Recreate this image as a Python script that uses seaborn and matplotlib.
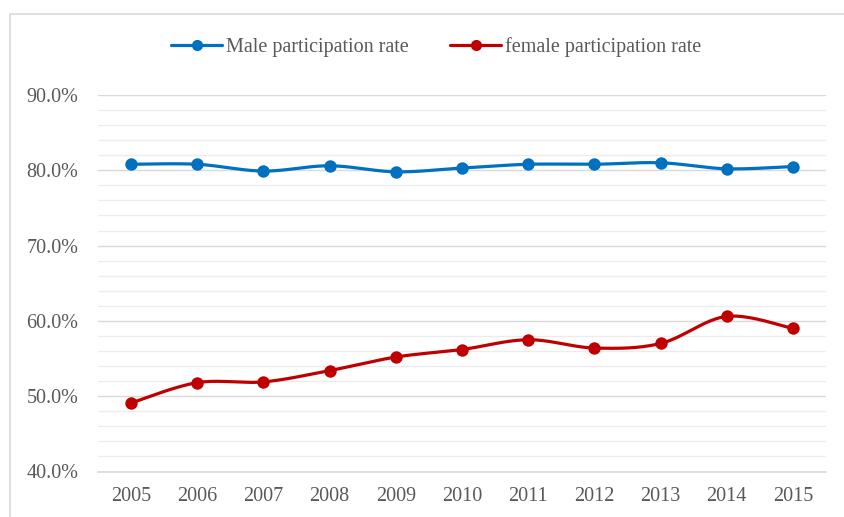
import numpy as np
import pandas as pd
import matplotlib
matplotlib.use("Agg")
import matplotlib.pyplot as plt
from matplotlib.lines import Line2D
from matplotlib.ticker import MultipleLocator, FuncFormatter
import seaborn as sns

years = ["2005", "2006", "2007", "2008", "2009", "2010", "2011", "2012", "2013", "2014", "2015"]
male = [80.8, 80.8, 79.9, 80.6, 79.8, 80.3, 80.8, 80.8, 81.0, 80.2, 80.5]
female = [49.1, 51.8, 51.9, 53.4, 55.2, 56.2, 57.5, 56.4, 57.0, 60.6, 59.0]
series_names = ["Male participation rate", "female participation rate"]
colors = ["#0070C0", "#C00000"]

sns.set_theme(style="white")
plt.rcParams["font.family"] = ["Liberation Serif", "DejaVu Serif"]

fig = plt.figure(figsize=(8.45, 5.17), dpi=100)
W, H = 845, 517
ax = fig.add_axes([97.9 / W, (H - 471.5) / H, (826 - 97.9) / W, (471.5 - 95) / H])


def smooth(xs, ys, n=30):
    """Excel-like smoothed line: Catmull-Rom style cubic Bezier segments."""
    pts = np.column_stack([xs, ys]).astype(float)
    out = []
    m = len(pts)
    for i in range(m - 1):
        p0 = pts[i - 1] if i > 0 else pts[i]
        p1 = pts[i]
        p2 = pts[i + 1]
        p3 = pts[i + 2] if i + 2 < m else pts[i + 1]
        c1 = p1 + (p2 - p0) / 6.0
        c2 = p2 - (p3 - p1) / 6.0
        t = np.linspace(0, 1, n)[:, None]
        seg = ((1 - t) ** 3) * p1 + 3 * ((1 - t) ** 2) * t * c1 + 3 * (1 - t) * t ** 2 * c2 + t ** 3 * p2
        if i > 0:
            seg = seg[1:]
        out.append(seg)
    return np.vstack(out)


xpos = np.arange(len(years))
for name, vals, col in zip(series_names, [male, female], colors):
    curve = smooth(xpos, vals)
    dfc = pd.DataFrame({"x": curve[:, 0], "y": curve[:, 1]})
    sns.lineplot(data=dfc, x="x", y="y", sort=False, color=col, lw=2.3, ax=ax, zorder=3)
    dfp = pd.DataFrame({"x": xpos, "y": vals})
    sns.scatterplot(data=dfp, x="x", y="y", color=col, s=80, edgecolor=col, linewidth=0, ax=ax, zorder=4)

ax.set_xlim(-0.5, len(years) - 0.5)
ax.set_ylim(40, 90)
ax.set_xticks(xpos)
ax.set_xticklabels(years)
ax.yaxis.set_major_locator(MultipleLocator(10))
ax.yaxis.set_minor_locator(MultipleLocator(2))
ax.yaxis.set_major_formatter(FuncFormatter(lambda v, p: f"{v:.1f}%"))
ax.grid(True, which="major", axis="y", color="#d9d9d9", lw=1.0, zorder=0)
ax.grid(True, which="minor", axis="y", color="#ececec", lw=1.0, zorder=0)
ax.grid(False, axis="x")
ax.set_axisbelow(True)
for s in ["left", "right", "top"]:
    ax.spines[s].set_visible(False)
ax.spines["bottom"].set_color("#d9d9d9")
ax.spines["bottom"].set_linewidth(1.2)
ax.tick_params(axis="both", which="both", length=0, labelsize=14.5, labelcolor="#595959")
ax.tick_params(axis="x", pad=11.5)
ax.tick_params(axis="y", pad=14)
ax.set_xlabel("")
ax.set_ylabel("")

handles = [Line2D([0], [0], color=c, lw=2.3, marker="o", markersize=7, markerfacecolor=c, markeredgecolor=c)
           for c in colors]
leg = fig.legend(handles, series_names, loc="center", bbox_to_anchor=(436 / W, (H - 47.3) / H),
                 ncol=2, frameon=False, fontsize=14.5, handlelength=2.55, handletextpad=0.17,
                 columnspacing=2.05, labelcolor="#595959", borderpad=0, borderaxespad=0)

# outer chart frame (partially visible)
fig.add_artist(Line2D([10.5 / W, 10.5 / W], [0, (H - 13.5) / H], color="#d9d9d9", lw=1.2))
fig.add_artist(Line2D([10.5 / W, 1.0], [(H - 13.5) / H, (H - 13.5) / H], color="#d9d9d9", lw=1.2))

fig.savefig("out.png", dpi=100)
